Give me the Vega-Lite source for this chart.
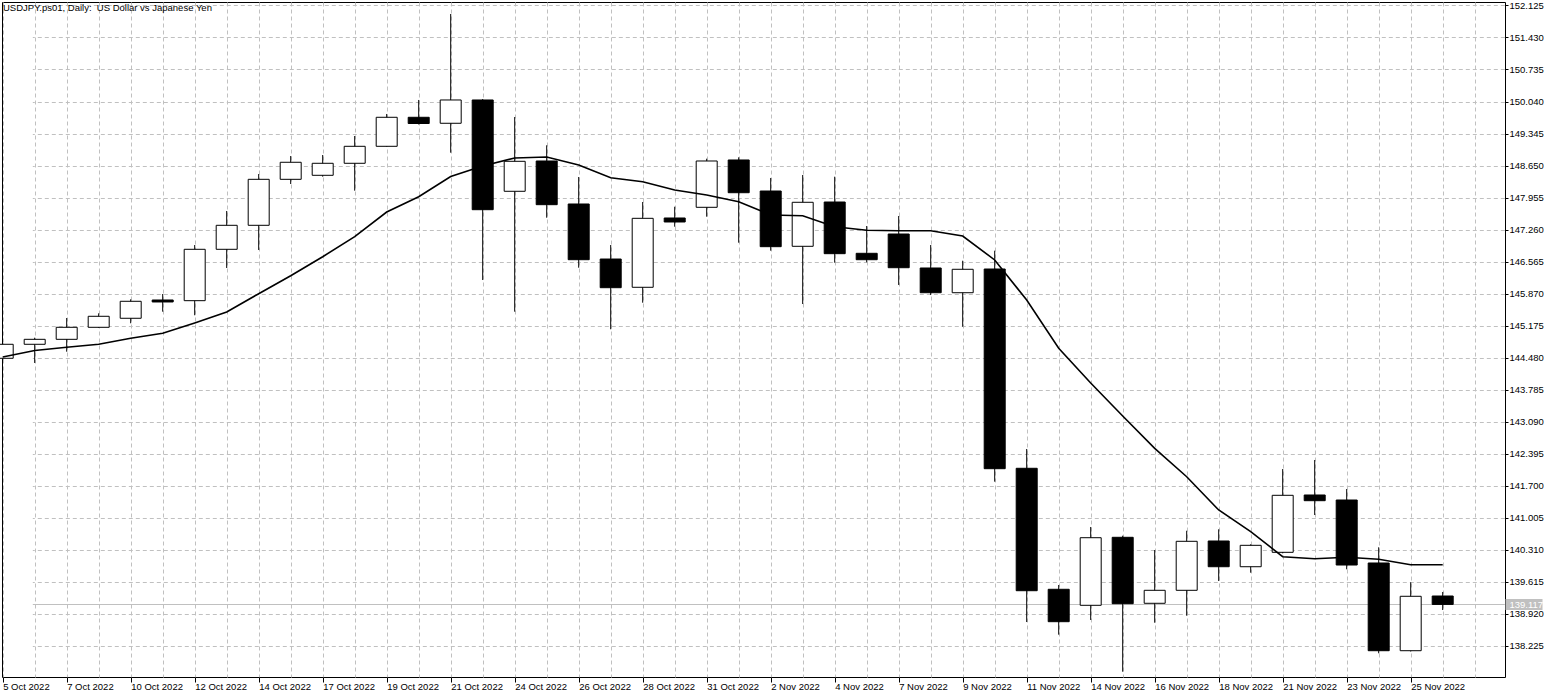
{
  "$schema": "https://vega.github.io/schema/vega-lite/v6.json",
  "width": 1503,
  "height": 675,
  "autosize": {"type": "none"},
  "padding": {"left": 2, "top": 2, "right": 53, "bottom": 21},
  "background": "white",
  "title": {
    "text": "USDJPY.ps01, Daily: \u00a0US Dollar vs Japanese Yen",
    "anchor": "start",
    "frame": "group",
    "orient": "top",
    "baseline": "alphabetic",
    "offset": -20,
    "dx": 1,
    "font": "Liberation Sans",
    "fontSize": 9.5,
    "fontWeight": "normal",
    "color": "black"
  },
  "config": {
    "font": "Liberation Sans",
    "view": {"stroke": "black", "strokeWidth": 1},
    "axis": {
      "labelFont": "Liberation Sans",
      "labelFontSize": 9.5,
      "labelColor": "black",
      "tickColor": "black",
      "gridColor": "#c0c0c0",
      "gridDash": [4, 3],
      "gridWidth": 1,
      "domain": false,
      "title": null
    }
  },
  "data": {
    "values": [
      {"d": "5 Oct 2022", "o": 144.463, "h": 144.795, "l": 144.426, "c": 144.767, "ma": 144.491},
      {"d": "6 Oct 2022", "o": 144.767, "h": 144.910, "l": 144.361, "c": 144.875, "ma": 144.632},
      {"d": "7 Oct 2022", "o": 144.875, "h": 145.338, "l": 144.606, "c": 145.136, "ma": 144.702},
      {"d": "9 Oct 2022", "o": 145.136, "h": 145.440, "l": 145.121, "c": 145.375, "ma": 144.769},
      {"d": "10 Oct 2022", "o": 145.332, "h": 145.744, "l": 145.223, "c": 145.701, "ma": 144.899},
      {"d": "11 Oct 2022", "o": 145.729, "h": 145.859, "l": 145.475, "c": 145.686, "ma": 145.006},
      {"d": "12 Oct 2022", "o": 145.714, "h": 146.923, "l": 145.397, "c": 146.830, "ma": 145.229},
      {"d": "13 Oct 2022", "o": 146.830, "h": 147.662, "l": 146.424, "c": 147.351, "ma": 145.468},
      {"d": "14 Oct 2022", "o": 147.351, "h": 148.465, "l": 146.815, "c": 148.350, "ma": 145.866},
      {"d": "16 Oct 2022", "o": 148.350, "h": 148.856, "l": 148.248, "c": 148.720, "ma": 146.257},
      {"d": "17 Oct 2022", "o": 148.437, "h": 148.878, "l": 148.407, "c": 148.698, "ma": 146.669},
      {"d": "18 Oct 2022", "o": 148.698, "h": 149.291, "l": 148.103, "c": 149.067, "ma": 147.104},
      {"d": "19 Oct 2022", "o": 149.067, "h": 149.769, "l": 149.058, "c": 149.697, "ma": 147.640},
      {"d": "20 Oct 2022", "o": 149.697, "h": 150.073, "l": 149.541, "c": 149.562, "ma": 147.972},
      {"d": "21 Oct 2022", "o": 149.567, "h": 151.941, "l": 148.928, "c": 150.073, "ma": 148.411},
      {"d": "23 Oct 2022", "o": 150.073, "h": 150.094, "l": 146.163, "c": 147.690, "ma": 148.639},
      {"d": "24 Oct 2022", "o": 148.090, "h": 149.703, "l": 145.475, "c": 148.741, "ma": 148.813},
      {"d": "25 Oct 2022", "o": 148.748, "h": 149.089, "l": 147.516, "c": 147.799, "ma": 148.835},
      {"d": "26 Oct 2022", "o": 147.814, "h": 148.400, "l": 146.430, "c": 146.604, "ma": 148.661},
      {"d": "27 Oct 2022", "o": 146.619, "h": 146.923, "l": 145.093, "c": 145.996, "ma": 148.385},
      {"d": "28 Oct 2022", "o": 146.005, "h": 147.857, "l": 145.670, "c": 147.503, "ma": 148.298},
      {"d": "30 Oct 2022", "o": 147.510, "h": 147.755, "l": 147.321, "c": 147.423, "ma": 148.118},
      {"d": "31 Oct 2022", "o": 147.742, "h": 148.798, "l": 147.538, "c": 148.748, "ma": 148.009},
      {"d": "1 Nov 2022", "o": 148.770, "h": 148.828, "l": 146.973, "c": 148.059, "ma": 147.864},
      {"d": "2 Nov 2022", "o": 148.096, "h": 148.379, "l": 146.800, "c": 146.887, "ma": 147.575},
      {"d": "3 Nov 2022", "o": 146.895, "h": 148.444, "l": 145.642, "c": 147.851, "ma": 147.560},
      {"d": "4 Nov 2022", "o": 147.857, "h": 148.407, "l": 146.539, "c": 146.735, "ma": 147.321},
      {"d": "6 Nov 2022", "o": 146.743, "h": 147.336, "l": 146.548, "c": 146.604, "ma": 147.243},
      {"d": "7 Nov 2022", "o": 147.162, "h": 147.553, "l": 146.055, "c": 146.430, "ma": 147.234},
      {"d": "8 Nov 2022", "o": 146.424, "h": 146.923, "l": 145.837, "c": 145.887, "ma": 147.234},
      {"d": "9 Nov 2022", "o": 145.887, "h": 146.582, "l": 145.149, "c": 146.396, "ma": 147.119},
      {"d": "10 Nov 2022", "o": 146.402, "h": 146.800, "l": 141.783, "c": 142.065, "ma": 146.598},
      {"d": "11 Nov 2022", "o": 142.074, "h": 142.493, "l": 138.735, "c": 139.415, "ma": 145.729},
      {"d": "13 Nov 2022", "o": 139.446, "h": 139.539, "l": 138.460, "c": 138.742, "ma": 144.680},
      {"d": "14 Nov 2022", "o": 139.098, "h": 140.799, "l": 138.779, "c": 140.566, "ma": 143.926},
      {"d": "15 Nov 2022", "o": 140.575, "h": 140.610, "l": 137.656, "c": 139.133, "ma": 143.209},
      {"d": "16 Nov 2022", "o": 139.142, "h": 140.299, "l": 138.720, "c": 139.424, "ma": 142.508},
      {"d": "17 Nov 2022", "o": 139.424, "h": 140.718, "l": 138.872, "c": 140.488, "ma": 141.891},
      {"d": "18 Nov 2022", "o": 140.495, "h": 140.749, "l": 139.626, "c": 139.936, "ma": 141.168},
      {"d": "20 Nov 2022", "o": 139.936, "h": 140.423, "l": 139.806, "c": 140.401, "ma": 140.697},
      {"d": "21 Nov 2022", "o": 140.249, "h": 142.058, "l": 140.227, "c": 141.487, "ma": 140.154},
      {"d": "22 Nov 2022", "o": 141.494, "h": 142.254, "l": 141.059, "c": 141.370, "ma": 140.110},
      {"d": "23 Nov 2022", "o": 141.385, "h": 141.624, "l": 139.880, "c": 139.973, "ma": 140.141},
      {"d": "24 Nov 2022", "o": 140.017, "h": 140.358, "l": 138.056, "c": 138.112, "ma": 140.097},
      {"d": "25 Nov 2022", "o": 138.112, "h": 139.598, "l": 138.095, "c": 139.294, "ma": 139.980},
      {"d": "27 Nov 2022", "o": 139.300, "h": 139.387, "l": 138.996, "c": 139.117, "ma": 139.980}
    ]
  },
  "encoding": {
    "x": {"field": "d", "type": "ordinal", "sort": null,
          "scale": {"type": "point", "padding": 0, "range": [0.7, 1472.7],
                    "domain": ["5 Oct 2022","6 Oct 2022","7 Oct 2022","9 Oct 2022","10 Oct 2022","11 Oct 2022","12 Oct 2022","13 Oct 2022","14 Oct 2022","16 Oct 2022","17 Oct 2022","18 Oct 2022","19 Oct 2022","20 Oct 2022","21 Oct 2022","23 Oct 2022","24 Oct 2022","25 Oct 2022","26 Oct 2022","27 Oct 2022","28 Oct 2022","30 Oct 2022","31 Oct 2022","1 Nov 2022","2 Nov 2022","3 Nov 2022","4 Nov 2022","6 Nov 2022","7 Nov 2022","8 Nov 2022","9 Nov 2022","10 Nov 2022","11 Nov 2022","13 Nov 2022","14 Nov 2022","15 Nov 2022","16 Nov 2022","17 Nov 2022","18 Nov 2022","20 Nov 2022","21 Nov 2022","22 Nov 2022","23 Nov 2022","24 Nov 2022","25 Nov 2022","27 Nov 2022","28 Nov 2022"]},
          "axis": {
            "orient": "bottom",
            "grid": true,
            "labelAngle": 0,
            "labelAlign": "left",
            "labelBaseline": "top",
            "labelPadding": -1,
            "tickSize": 5,
            "labelOverlap": false,
            "labelExpr": "indexof(['5 Oct 2022','7 Oct 2022','10 Oct 2022','12 Oct 2022','14 Oct 2022','17 Oct 2022','19 Oct 2022','21 Oct 2022','24 Oct 2022','26 Oct 2022','28 Oct 2022','31 Oct 2022','2 Nov 2022','4 Nov 2022','7 Nov 2022','9 Nov 2022','11 Nov 2022','14 Nov 2022','16 Nov 2022','18 Nov 2022','21 Nov 2022','23 Nov 2022','25 Nov 2022'], datum.value) >= 0 ? datum.value : ''",
            "tickOpacity": {"condition": {"test": "indexof(['5 Oct 2022','7 Oct 2022','10 Oct 2022','12 Oct 2022','14 Oct 2022','17 Oct 2022','19 Oct 2022','21 Oct 2022','24 Oct 2022','26 Oct 2022','28 Oct 2022','31 Oct 2022','2 Nov 2022','4 Nov 2022','7 Nov 2022','9 Nov 2022','11 Nov 2022','14 Nov 2022','16 Nov 2022','18 Nov 2022','21 Nov 2022','23 Nov 2022','25 Nov 2022'], datum.value) >= 0", "value": 1}, "value": 0}
          }}
  },
  "layer": [
    {
      "mark": {"type": "rule", "color": "black", "strokeWidth": 1},
      "encoding": {
        "y": {"field": "l", "type": "quantitative", "scale": {"domain": [137.541, 152.201], "zero": false, "nice": false},
              "axis": {
                "orient": "right",
                "grid": true,
                "format": ".3f",
                "values": [138.225, 138.92, 139.615, 140.31, 141.005, 141.7, 142.395, 143.09, 143.785, 144.48, 145.175, 145.87, 146.565, 147.26, 147.955, 148.65, 149.345, 150.04, 150.735, 151.43, 152.125, 139.117],
                "labelAlign": "left",
                "labelBaseline": "middle",
                "labelOverlap": false,
                "labelBound": false,
                "tickSize": {"condition": {"test": "datum.value == 139.117", "value": 37}, "value": 3},
                "tickWidth": {"condition": {"test": "datum.value == 139.117", "value": 11}, "value": 1},
                "tickColor": {"condition": {"test": "datum.value == 139.117", "value": "#c0c0c0"}, "value": "black"},
                "labelColor": {"condition": {"test": "datum.value == 139.117", "value": "white"}, "value": "black"},
                "labelPadding": {"condition": {"test": "datum.value == 139.117", "value": -33}, "value": 1},
                "gridDash": {"condition": {"test": "datum.value == 139.117", "value": []}, "value": [4, 3]}
              }},
        "y2": {"field": "h"}
      }
    },
    {
      "mark": {"type": "bar", "width": 21, "stroke": "black", "strokeWidth": 1},
      "encoding": {
        "y": {"field": "o", "type": "quantitative", "scale": {"domain": [137.541, 152.201], "zero": false, "nice": false},
              "axis": {
                "orient": "right",
                "grid": true,
                "format": ".3f",
                "values": [138.225, 138.92, 139.615, 140.31, 141.005, 141.7, 142.395, 143.09, 143.785, 144.48, 145.175, 145.87, 146.565, 147.26, 147.955, 148.65, 149.345, 150.04, 150.735, 151.43, 152.125, 139.117],
                "labelAlign": "left",
                "labelBaseline": "middle",
                "labelOverlap": false,
                "labelBound": false,
                "tickSize": {"condition": {"test": "datum.value == 139.117", "value": 37}, "value": 3},
                "tickWidth": {"condition": {"test": "datum.value == 139.117", "value": 11}, "value": 1},
                "tickColor": {"condition": {"test": "datum.value == 139.117", "value": "#c0c0c0"}, "value": "black"},
                "labelColor": {"condition": {"test": "datum.value == 139.117", "value": "white"}, "value": "black"},
                "labelPadding": {"condition": {"test": "datum.value == 139.117", "value": -33}, "value": 1},
                "gridDash": {"condition": {"test": "datum.value == 139.117", "value": []}, "value": [4, 3]}
              }},
        "y2": {"field": "c"},
        "fill": {"condition": {"test": "datum.c >= datum.o", "value": "white"}, "value": "black"}
      }
    },
    {
      "mark": {"type": "line", "color": "black", "strokeWidth": 1.6},
      "encoding": {
        "y": {"field": "ma", "type": "quantitative", "scale": {"domain": [137.541, 152.201], "zero": false, "nice": false},
              "axis": {
                "orient": "right",
                "grid": true,
                "format": ".3f",
                "values": [138.225, 138.92, 139.615, 140.31, 141.005, 141.7, 142.395, 143.09, 143.785, 144.48, 145.175, 145.87, 146.565, 147.26, 147.955, 148.65, 149.345, 150.04, 150.735, 151.43, 152.125, 139.117],
                "labelAlign": "left",
                "labelBaseline": "middle",
                "labelOverlap": false,
                "labelBound": false,
                "tickSize": {"condition": {"test": "datum.value == 139.117", "value": 37}, "value": 3},
                "tickWidth": {"condition": {"test": "datum.value == 139.117", "value": 11}, "value": 1},
                "tickColor": {"condition": {"test": "datum.value == 139.117", "value": "#c0c0c0"}, "value": "black"},
                "labelColor": {"condition": {"test": "datum.value == 139.117", "value": "white"}, "value": "black"},
                "labelPadding": {"condition": {"test": "datum.value == 139.117", "value": -33}, "value": 1},
                "gridDash": {"condition": {"test": "datum.value == 139.117", "value": []}, "value": [4, 3]}
              }},
        "order": {"value": null}
      }
    }
  ]
}
